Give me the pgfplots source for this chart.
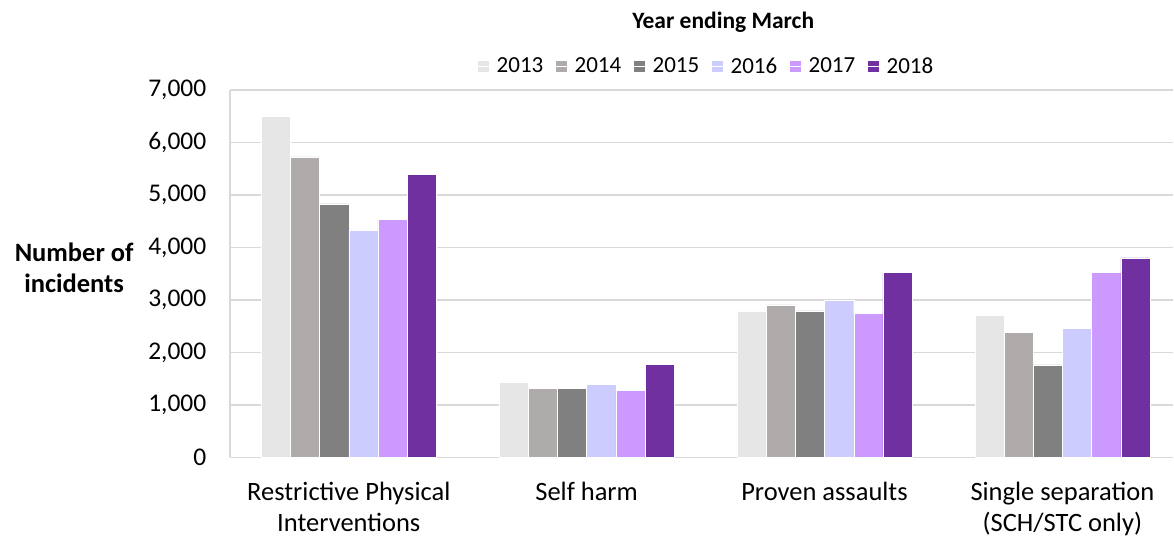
\documentclass[border=0pt]{standalone}
\usepackage{pgfplots}
\pgfplotsset{compat=1.18}
\usepackage{fontspec}
\setmainfont{Carlito}
\definecolor{c13}{HTML}{E6E6E6}
\definecolor{c14}{HTML}{AFABAB}
\definecolor{c15}{HTML}{808080}
\definecolor{c16}{HTML}{CCCCFF}
\definecolor{c17}{HTML}{CC99FF}
\definecolor{c18}{HTML}{7030A0}
\definecolor{gridc}{HTML}{D9D9D9}
\begin{document}
\begin{tikzpicture}
\begin{axis}[
  scale only axis,
  width=944pt, height=367.7pt,
  xmin=-0.5, xmax=3.466,
  ymin=0, ymax=7000,
  ytick={0,1000,...,7000},
  xtick={0,1,2,3},
  xticklabels={{Restrictive Physical\\Interventions},{Self harm},{Proven assaults},{Single separation\\(SCH/STC only)}},
  xticklabel style={align=center, font=\fontsize{26.5}{31.5}\selectfont, anchor=north, yshift=-21pt},
  yticklabel style={font=\fontsize{25.5}{28}\selectfont, anchor=east, xshift=-20pt},
  /pgf/number format/assume math mode=true,
  /pgf/number format/1000 sep={,},
  scaled y ticks=false,
  major tick length=0pt,
  axis x line*=bottom,
  axis y line*=left,
  axis line style={gridc, line width=1.5pt, -},
  ymajorgrids,
  grid style={gridc, line width=1.5pt},
  ybar=0pt,
  bar width=29.2pt,
  clip=false,
  legend columns=6,
  legend style={draw=none, fill=none, at={(rel axis cs:0.505,1.065)}, anchor=center,
    font=\fontsize{23}{25}\selectfont,
    /tikz/every even column/.append style={column sep=10pt}},
  legend image code/.code={\fill[#1] (0pt,-6pt) rectangle (12pt,6pt); \path (0pt,0pt) -- (17pt,0pt);},
]
\addplot[fill=c13, draw=white, line width=0.4pt] coordinates {(0,6500) (1,1440) (2,2790) (3,2705)};
\addplot[fill=c14, draw=white, line width=0.4pt] coordinates {(0,5725) (1,1315) (2,2905) (3,2380)};
\addplot[fill=c15, draw=white, line width=0.4pt] coordinates {(0,4830) (1,1315) (2,2790) (3,1765)};
\addplot[fill=c16, draw=white, line width=0.4pt] coordinates {(0,4335) (1,1395) (2,2990) (3,2460)};
\addplot[fill=c17, draw=white, line width=0.4pt] coordinates {(0,4540) (1,1275) (2,2740) (3,3525)};
\addplot[fill=c18, draw=white, line width=0.4pt] coordinates {(0,5390) (1,1770) (2,3520) (3,3800)};
\legend{2013,2014,2015,2016,2017,2018}
\node[font=\bfseries\fontsize{23.5}{25}\selectfont] at (rel axis cs:0.523,1.185) {Year ending March};
\node[font=\bfseries\fontsize{26.5}{31}\selectfont, align=center] at (rel axis cs:-0.165,0.516) {Number of\\incidents};
\path (rel axis cs:-0.2436,-0.2184) rectangle (rel axis cs:1,1.2448);
\end{axis}
\end{tikzpicture}
\end{document}
